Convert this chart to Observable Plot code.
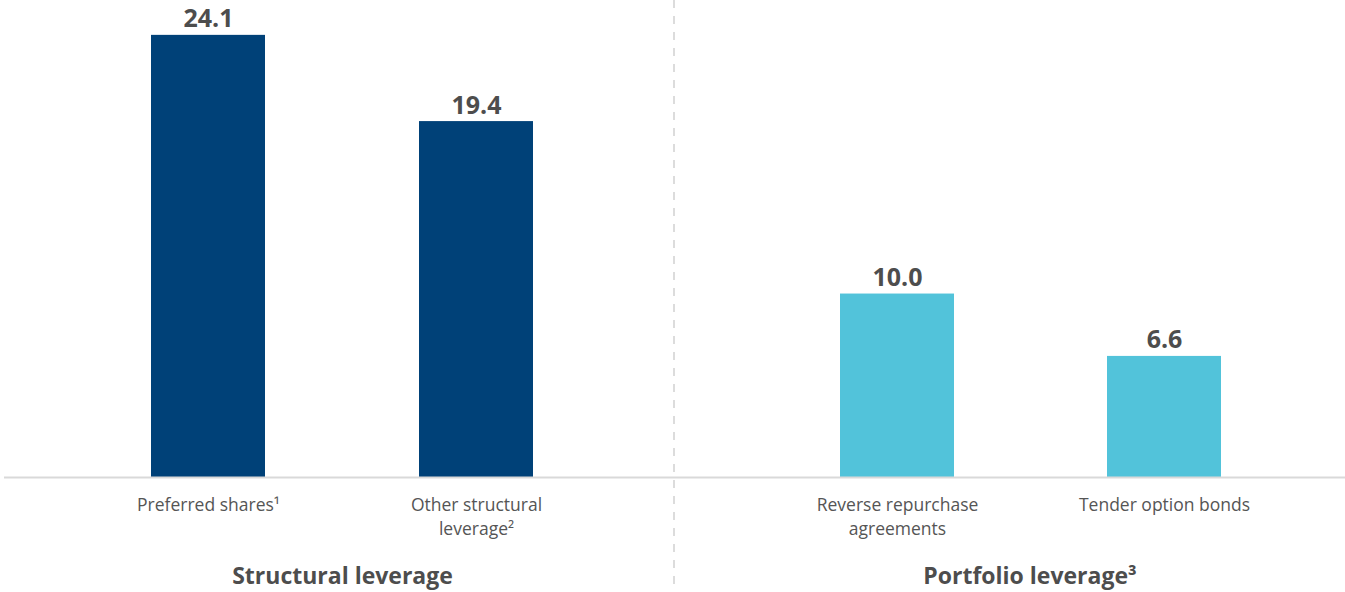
<!DOCTYPE html>
<html>
<head>
<meta charset="utf-8">
<script src="https://cdn.jsdelivr.net/npm/d3@7"></script>
<script src="https://cdn.jsdelivr.net/npm/@observablehq/plot@0.6"></script>
<style>
  html, body { margin: 0; padding: 0; background: #fff; }
  #wrap { position: relative; width: 1345px; height: 592px; display: flex; font-family: "Open Sans", "Noto Sans", sans-serif; }
  #divider { position: absolute; left: 673px; top: 0; width: 2px; height: 592px;
    background: repeating-linear-gradient(to bottom, #dcdcdc 0 8px, transparent 8px 16px); }
  svg { display: block; }
</style>
</head>
<body>
<div id="wrap"><div id="left"></div><div id="right"></div><div id="divider"></div></div>
<script>
// Data
const groups = ["Structural leverage", "Portfolio leverage³"];
const structuralCategories = ["Preferred shares¹", "Other structural\nleverage²"];
const structuralValues = [24.1, 19.4];
const portfolioCategories = ["Reverse repurchase\nagreements", "Tender option bonds"];
const portfolioValues = [10.0, 6.6];
const colors = ["#004178", "#52C3DA"];

const yDomain = [0, 26];
const fontFamily = '"Open Sans", "Noto Sans", sans-serif';

function panel({width, cats, vals, color, group, marginLeft, marginRight, paddingOuter, align, groupDx}) {
  const data = cats.map((c, i) => ({cat: c, value: vals[i]}));
  return Plot.plot({
    width, height: 592,
    marginTop: 0, marginBottom: 115, marginLeft, marginRight,
    style: {fontFamily, background: "transparent"},
    x: {domain: cats, paddingInner: 0.5746, paddingOuter, align, axis: null},
    y: {domain: yDomain, axis: null},
    marks: [
      Plot.barY(data, {x: "cat", y: "value", fill: color}),
      Plot.ruleY([0], {stroke: "#d9d9d9", strokeWidth: 2}),
      Plot.text(data, {x: "cat", y: "value", text: d => d.value.toFixed(1), lineAnchor: "bottom", dy: -8,
        fontSize: 25, fontWeight: 700, fill: "#4d4d4d"}),
      Plot.text(data, {x: "cat", y: () => 0, text: "cat", lineAnchor: "top", dy: 16, lineHeight: 1.38,
        fontSize: 17.5, fill: "#555"}),
      Plot.text([group], {frameAnchor: "bottom", lineAnchor: "middle", dy: 99, dx: groupDx,
        fontSize: 23, fontWeight: 700, fill: "#4d4d4d"})
    ]
  });
}

document.getElementById("left").appendChild(panel({
  width: 674, cats: structuralCategories, vals: structuralValues, color: colors[0], group: groups[0],
  marginLeft: 4, marginRight: 0, paddingOuter: 0.5373, align: 0.5104, groupDx: 3
}));
document.getElementById("right").appendChild(panel({
  width: 671, cats: portfolioCategories, vals: portfolioValues, color: colors[1], group: groups[1],
  marginLeft: 0, marginRight: 0, paddingOuter: 0.5392, align: 0.571, groupDx: 20
}));
</script>
</body>
</html>
